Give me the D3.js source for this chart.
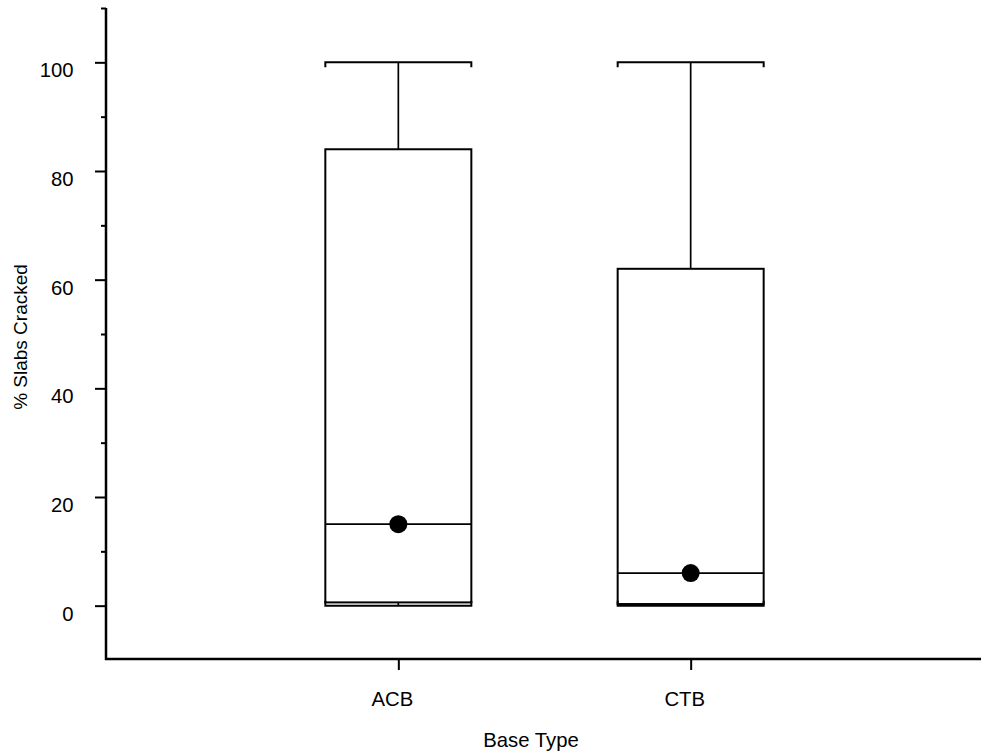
<!DOCTYPE html>
<html>
<head>
<meta charset="utf-8">
<script src="https://cdn.jsdelivr.net/npm/d3@7"></script>
<style>
  html, body { margin: 0; padding: 0; background: #fff; }
  svg { display: block; font-family: "Liberation Sans", Arial, sans-serif; }
</style>
</head>
<body>
<svg id="chart" width="981" height="754"></svg>
<script>
// ---- data ----
const categories = ["ACB", "CTB"];
const mins    = [0, 0];
const q1s     = [0.6, 0.3];
const medians = [15, 6];
const q3s     = [84, 62];
const maxs    = [100, 100];
const means   = [15, 6];
const majorTicks = [0, 20, 40, 60, 80, 100];
const minorTicks = [10, 30, 50, 70, 90, 110];
const xTitle = "Base Type";
const yTitle = "% Slabs Cracked";

// ---- layout ----
const plotL = 106, plotR = 981, plotT = 8, plotB = 660;
const FS = 20.3;
const svg = d3.select("#chart");

const y = d3.scaleLinear().domain([-10, 110]).range([plotB, plotT]);
const x = d3.scalePoint().domain(categories).range([plotL, 983]).padding(1);
const boxHalf = 73;

// axes
const yAxis = d3.axisLeft(y).tickValues(majorTicks).tickSize(11).tickPadding(21.5).tickFormat(d3.format("d"));
const gy = svg.append("g").attr("transform", `translate(${plotL},0)`).call(yAxis);
gy.select(".domain").remove();
gy.selectAll(".tick line").attr("stroke", "#000").attr("stroke-width", 2);
gy.selectAll(".tick text").attr("font-size", FS).attr("fill", "#000").attr("dy", "0.72em");

const yMinor = d3.axisLeft(y).tickValues(minorTicks).tickSize(5).tickFormat("");
const gym = svg.append("g").attr("transform", `translate(${plotL},0)`).call(yMinor);
gym.select(".domain").remove();
gym.selectAll(".tick line").attr("stroke", "#000").attr("stroke-width", 2);

const xAxis = d3.axisBottom(x).tickSize(11).tickPadding(22);
const gx = svg.append("g").attr("transform", `translate(0,${plotB - 1})`).call(xAxis);
gx.select(".domain").remove();
gx.selectAll(".tick line").attr("stroke", "#000").attr("stroke-width", 2);
gx.selectAll(".tick text").attr("font-size", FS).attr("fill", "#000").attr("dx", -6.5);

// axis lines
svg.append("line").attr("x1", plotL).attr("x2", plotL).attr("y1", y(110)).attr("y2", plotB)
  .attr("stroke", "#000").attr("stroke-width", 2.5);
svg.append("line").attr("x1", plotL - 1).attr("x2", plotR).attr("y1", plotB - 1).attr("y2", plotB - 1)
  .attr("stroke", "#000").attr("stroke-width", 2.5);

// boxes
const data = categories.map((c, i) => ({ c, min: mins[i], q1: q1s[i], med: medians[i], q3: q3s[i], max: maxs[i], mean: means[i] }));
const g = svg.append("g").selectAll("g").data(data).join("g");

// whiskers
g.append("line").attr("x1", d => x(d.c)).attr("x2", d => x(d.c))
  .attr("y1", d => y(d.max)).attr("y2", d => y(d.q3)).attr("stroke", "#000").attr("stroke-width", 1.7);
g.append("line").attr("x1", d => x(d.c)).attr("x2", d => x(d.c))
  .attr("y1", d => y(d.q1)).attr("y2", d => y(d.min)).attr("stroke", "#000").attr("stroke-width", 1.7);

// caps with small end ticks
const capPath = (d, v, dir) => {
  const cx = x(d.c), yy = y(v);
  return `M${cx - boxHalf},${yy + dir * 5}V${yy}H${cx + boxHalf}V${yy + dir * 5}`;
};
g.append("path").attr("d", d => capPath(d, d.max, 1)).attr("fill", "none").attr("stroke", "#000").attr("stroke-width", 2);
g.append("path").attr("d", d => capPath(d, d.min, -1)).attr("fill", "none").attr("stroke", "#000").attr("stroke-width", 2);

// box
g.append("rect").attr("x", d => x(d.c) - boxHalf).attr("width", boxHalf * 2)
  .attr("y", d => y(d.q3)).attr("height", d => y(d.q1) - y(d.q3))
  .attr("fill", "none").attr("stroke", "#000").attr("stroke-width", 2);

// median
g.append("line").attr("x1", d => x(d.c) - boxHalf).attr("x2", d => x(d.c) + boxHalf)
  .attr("y1", d => y(d.med)).attr("y2", d => y(d.med)).attr("stroke", "#000").attr("stroke-width", 1.7);

// mean
g.append("circle").attr("cx", d => x(d.c)).attr("cy", d => y(d.mean)).attr("r", 9).attr("fill", "#000");

// titles
svg.append("text").attr("x", 531).attr("y", 747).attr("text-anchor", "middle")
  .attr("font-size", FS).attr("fill", "#000").text(xTitle);
svg.append("text").attr("transform", `translate(27,337) rotate(-90)`)
  .attr("text-anchor", "middle").attr("font-size", 19).attr("fill", "#000").text(yTitle);
</script>
</body>
</html>
